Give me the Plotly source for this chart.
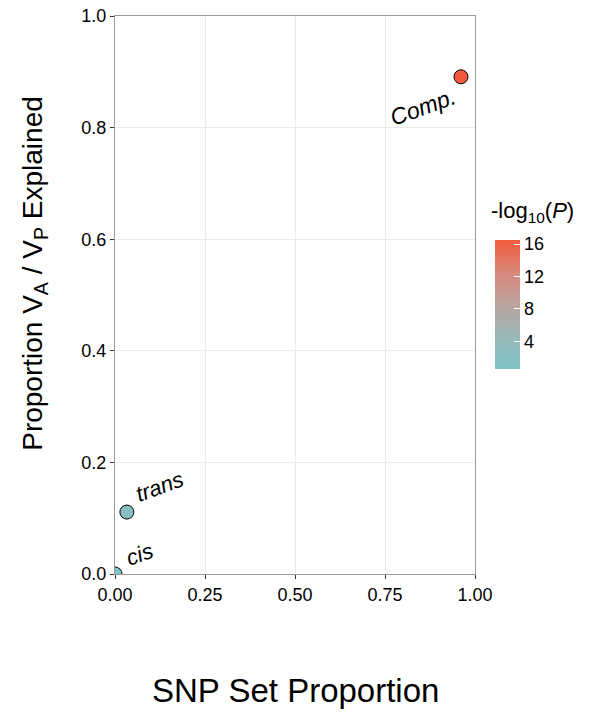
import plotly.graph_objects as go

labels = ["cis", "trans", "Comp."]
snp_prop = [0.0, 0.033, 0.961]
vp_explained = [0.0, 0.111, 0.891]
neglogp = [0.6, 2.2, 16.5]

xticks = [0, 0.25, 0.5, 0.75, 1.0]
xticklabels = ["0.00", "0.25", "0.50", "0.75", "1.00"]
yticks = [0, 0.2, 0.4, 0.6, 0.8, 1.0]
yticklabels = ["0.0", "0.2", "0.4", "0.6", "0.8", "1.0"]
cbticks = [4, 8, 12, 16]

font = "Liberation Sans, Arial, Helvetica, sans-serif"

colorscale = [
    [0.0, "#7DC4C9"],
    [0.25, "#99B7B8"],
    [0.5, "#BBA49E"],
    [0.75, "#D9877A"],
    [1.0, "#F15A3B"],
]

fig = go.Figure()
fig.add_trace(go.Scatter(
    x=snp_prop, y=vp_explained, mode="markers",
    marker=dict(
        size=14, color=neglogp, colorscale=colorscale,
        cmin=0.6, cmax=16.5,
        line=dict(color="black", width=1),
        colorbar=dict(
            tickvals=cbticks, ticks="inside", ticklen=6, tickcolor="white",
            tickfont=dict(size=18, family=font, color="black"),
            thickness=25, thicknessmode="pixels",
            len=129, lenmode="pixels",
            x=1.056, xanchor="left", xpad=0,
            y=0.483, yanchor="middle", ypad=0,
            outlinewidth=0,
        ),
    ),
    showlegend=False, hoverinfo="skip",
))

fig.add_annotation(
    xref="paper", yref="paper", x=1.04, y=0.648, xanchor="left", yanchor="middle",
    text="-log<sub>10</sub>(<i>P</i>)", showarrow=False,
    font=dict(size=22, family=font, color="black"),
)

# axis titles
fig.add_annotation(
    xref="paper", yref="paper", x=0.5, y=-0.208, xanchor="center", yanchor="middle",
    text="SNP Set Proportion", showarrow=False,
    font=dict(size=33, family=font, color="black"),
)
fig.add_annotation(
    xref="paper", yref="paper", x=0, y=0.538, xshift=-80, xanchor="center", yanchor="middle",
    text="Proportion V<sub>A</sub> / V<sub>P</sub> Explained", showarrow=False, textangle=-90,
    font=dict(size=28, family=font, color="black"),
)

offsets = [(24, -20), (33, -26), (-38, 30)]
sizes = [22, 22, 23]
for lab, x, y, (dx, dy), s in zip(labels, snp_prop, vp_explained, offsets, sizes):
    fig.add_annotation(
        x=x, y=y, text=f"<i>{lab}</i>", showarrow=False,
        xshift=dx, yshift=-dy, textangle=-20,
        font=dict(size=s, family=font, color="black"),
    )

fig.update_xaxes(
    range=[0, 1], tickvals=xticks, ticktext=xticklabels,
    showgrid=True, gridcolor="#EBEBEB", gridwidth=1,
    showline=True, linecolor="#999999", linewidth=1.3, mirror=True,
    ticks="outside", ticklen=4, tickcolor="#333333",
    tickfont=dict(size=18, family=font, color="black"),
    zeroline=False, automargin=False,
)
fig.update_yaxes(
    range=[0, 1], tickvals=yticks, ticktext=yticklabels,
    showgrid=True, gridcolor="#EBEBEB", gridwidth=1,
    showline=True, linecolor="#999999", linewidth=1.3, mirror=True,
    ticks="outside", ticklen=4, tickcolor="#333333",
    tickfont=dict(size=18, family=font, color="black"),
    zeroline=False, automargin=False,
)
fig.update_layout(
    width=595, height=713,
    margin=dict(l=115, r=120, t=16, b=139),
    plot_bgcolor="white", paper_bgcolor="white",
)
fig.write_html("out.html")
